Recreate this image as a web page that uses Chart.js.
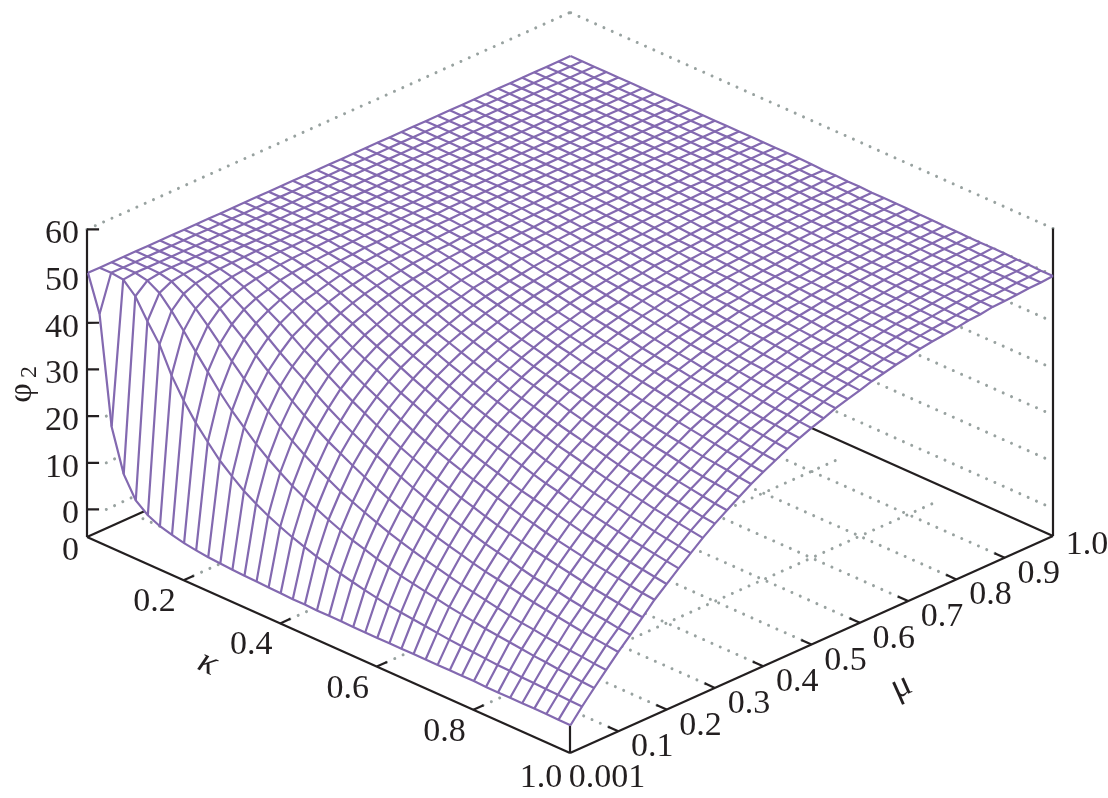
<!DOCTYPE html>
<html>
<head>
<meta charset="utf-8">
<title>phi2 surface</title>
<script src="https://cdn.jsdelivr.net/npm/chart.js@4/dist/chart.umd.min.js"></script>
<style>
html, body { margin: 0; padding: 0; background: #fff; }
canvas { display: block; }
</style>
</head>
<body>
<canvas id="surfaceChart" width="1108" height="798"></canvas>
<script>
'use strict';
const kappaValues = [0.001,0.025,0.05,0.075,0.1,0.125,0.15,0.175,0.2,0.225,0.25,0.275,0.3,0.325,0.35,0.375,0.4,0.425,0.45,0.475,0.5,0.525,0.55,0.575,0.6,0.625,0.65,0.675,0.7,0.725,0.75,0.775,0.8,0.825,0.85,0.875,0.9,0.925,0.95,0.975,1];
const muValues = [0.001,0.025,0.05,0.075,0.1,0.125,0.15,0.175,0.2,0.225,0.25,0.275,0.3,0.325,0.35,0.375,0.4,0.425,0.45,0.475,0.5,0.525,0.55,0.575,0.6,0.625,0.65,0.675,0.7,0.725,0.75,0.775,0.8,0.825,0.85,0.875,0.9,0.925,0.95,0.975,1];
const kappaTicks = [0.2, 0.4, 0.6, 0.8];
const muTicks = [0.1, 0.2, 0.3, 0.4, 0.5, 0.6, 0.7, 0.8, 0.9];
const zTicks = [0, 10, 20, 30, 40, 50, 60];
const plateauPhi = 50.7;
// phi2 estimated by eye from the mesh: one row per kappa, one value per mu.
const phiRows = [
[50.7],
[43],
[20,50.4],
[11,48,50.2,50.6],
[6.5,43.8,48.7,50,50.4,50.6],
[4.5,40,46,48.5,49.6,50.1,50.4,50.5,50.6],
[3.3,34.5,42.9,46.5,48.2,49.2,49.8,50.1,50.3,50.5,50.6,50.6],
[2.6,30.3,39.6,44,46.5,47.9,48.8,49.4,49.8,50.1,50.3,50.4,50.5,50.6,50.6],
[2,26.7,36.4,41.3,44.3,46.3,47.5,48.3,49.1,49.5,49.8,50,50.2,50.3,50.4,50.5,50.6,50.6],
[1.6,23.7,33.2,38.7,42.2,44.5,46,47.2,48.1,48.7,49.2,49.5,49.8,50,50.2,50.3,50.4,50.5,50.5,50.6,50.6],
[1.3,20.9,30.4,36.1,39.9,42.5,44.5,45.9,47,47.7,48.4,49,49.3,49.6,49.8,50,50.1,50.3,50.4,50.5,50.5,50.6,50.6],
[1.1,18.7,28,33.7,37.7,40.5,42.8,44.3,45.8,46.7,47.5,48.1,48.6,49.1,49.4,49.6,49.8,50,50.1,50.2,50.3,50.4,50.5,50.5,50.6,50.6],
[0.9,16.7,25.6,31.4,35.7,38.7,41,42.9,44.3,45.5,46.5,47.3,47.9,48.4,48.8,49.2,49.4,49.7,49.8,50,50.1,50.2,50.3,50.4,50.5,50.5,50.6,50.6],
[0.8,15.1,23.6,29.3,33.6,37,39.5,41.5,43,44.4,45.4,46.4,47.1,47.7,48.2,48.6,49,49.3,49.5,49.7,49.9,50,50.1,50.2,50.3,50.4,50.5,50.5,50.6,50.6],
[0.7,13.7,21.8,27.4,31.7,35,37.8,39.9,41.6,43.1,44.2,45.3,46.2,47,47.5,48,48.5,48.8,49.1,49.4,49.6,49.8,49.9,50,50.2,50.3,50.4,50.4,50.5,50.5,50.6,50.6],
[0.6,12.5,20.1,25.6,30,33.3,36.2,38.4,40.3,41.9,43.1,44.3,45.2,46.1,46.8,47.3,47.9,48.3,48.7,49,49.3,49.5,49.7,49.8,50,50.1,50.2,50.3,50.4,50.4,50.5,50.5,50.6,50.6],
[0.5,11.4,18.7,24,28.4,31.7,34.7,37,39.1,40.8,42.1,43.3,44.3,45.3,46.1,46.7,47.4,47.8,48.2,48.6,49,49.2,49.4,49.6,49.8,49.9,50,50.1,50.2,50.3,50.4,50.4,50.5,50.5,50.6,50.6],
[0.4,10.5,17.5,22.6,27,30.3,33.3,35.7,37.8,39.6,41,42.3,43.4,44.4,45.3,46,46.7,47.2,47.7,48.1,48.5,48.8,49.1,49.3,49.5,49.7,49.9,50,50.1,50.2,50.3,50.3,50.4,50.5,50.5,50.6,50.6],
[0.4,9.6,16.3,21.2,25.6,28.9,31.9,34.4,36.5,38.4,40,41.4,42.6,43.6,44.5,45.4,46.1,46.7,47.3,47.7,48.1,48.5,48.8,49.1,49.3,49.5,49.7,49.8,50,50.1,50.2,50.3,50.3,50.4,50.5,50.5,50.6,50.6,50.6],
[0.3,8.9,15.2,20.1,24.3,27.7,30.6,33.1,35.4,37.3,39,40.4,41.7,42.8,43.8,44.7,45.5,46.2,46.8,47.3,47.8,48.2,48.5,48.8,49,49.3,49.5,49.6,49.8,50,50.1,50.2,50.3,50.3,50.4,50.5,50.5,50.6,50.6,50.6],
[0.3,8.2,14.2,19,23,26.5,29.4,31.9,34.3,36.2,38,39.5,40.8,42,43.1,44,44.9,45.7,46.3,46.9,47.4,47.8,48.2,48.5,48.8,49.1,49.3,49.5,49.6,49.8,50,50.1,50.2,50.3,50.3,50.4,50.5,50.5,50.6,50.6,50.6],
[0.3,7.6,13.4,18,21.9,25.4,28.3,30.8,33.2,35.2,37,38.6,40,41.2,42.4,43.3,44.3,45.1,45.7,46.4,46.9,47.4,47.8,48.2,48.5,48.8,49.1,49.3,49.4,49.6,49.8,49.9,50,50.2,50.2,50.3,50.4,50.4,50.5,50.5,50.5],
[0.2,7,12.6,17,20.9,24.3,27.2,29.8,32.1,34.2,36.1,37.7,39.2,40.5,41.7,42.7,43.7,44.5,45.2,45.9,46.5,47,47.5,47.9,48.2,48.6,48.8,49.1,49.3,49.5,49.7,49.8,49.9,50.1,50.1,50.2,50.3,50.4,50.4,50.5,50.5],
[0.2,6.5,11.9,16.2,20,23.3,26.2,28.9,31.1,33.3,35.2,36.9,38.4,39.8,41,42.1,43.1,44,44.7,45.4,46.1,46.6,47.2,47.6,47.9,48.3,48.6,48.9,49.1,49.3,49.5,49.7,49.8,50,50,50.1,50.2,50.3,50.3,50.4,50.4],
[0.2,6,11.2,15.4,19.1,22.4,25.3,28,30.2,32.5,34.4,36.1,37.7,39.2,40.4,41.5,42.6,43.5,44.2,45,45.7,46.3,46.9,47.4,47.7,48.1,48.4,48.7,49,49.2,49.4,49.6,49.7,49.9,50,50.1,50.2,50.3,50.3,50.4,50.4],
[0.2,5.7,10.7,14.7,18.3,21.6,24.4,27.2,29.4,31.7,33.6,35.4,37,38.5,39.8,40.9,42,43,43.8,44.6,45.3,46,46.5,47.1,47.5,47.9,48.2,48.5,48.8,49,49.2,49.4,49.6,49.8,49.9,50,50.1,50.2,50.2,50.3,50.3],
[0.2,5.4,10.2,14.1,17.6,20.8,23.6,26.4,28.6,31,32.9,34.7,36.3,37.9,39.2,40.4,41.5,42.5,43.4,44.2,44.9,45.6,46.2,46.8,47.2,47.6,48,48.4,48.6,48.9,49.1,49.3,49.5,49.7,49.8,50,50,50.1,50.2,50.3,50.3],
[0.2,5.1,9.7,13.4,16.9,20,22.8,25.6,27.8,30.2,32.1,34,35.6,37.2,38.6,39.8,40.9,42,42.9,43.7,44.5,45.2,45.8,46.4,46.9,47.4,47.7,48.2,48.4,48.7,48.9,49.2,49.4,49.6,49.7,49.9,49.9,50,50.1,50.2,50.3],
[0.2,4.8,9.2,12.8,16.2,19.2,22,24.8,27.1,29.4,31.3,33.3,35,36.6,38,39.3,40.4,41.5,42.5,43.3,44.1,44.9,45.5,46.1,46.6,47.2,47.5,48,48.3,48.6,48.8,49.1,49.3,49.5,49.6,49.8,49.9,50,50.1,50.2,50.3],
[0.2,4.5,8.8,12.3,15.6,18.6,21.4,24.1,26.5,28.7,30.7,32.7,34.4,36,37.4,38.8,39.9,41.1,42.1,42.9,43.7,44.5,45.2,45.8,46.3,46.9,47.3,47.8,48.1,48.4,48.6,48.9,49.2,49.4,49.5,49.7,49.8,49.9,50,50.1,50.2],
[0.2,4.3,8.4,11.8,15.1,18,20.8,23.5,25.9,28.1,30.1,32.1,33.9,35.5,36.9,38.3,39.5,40.7,41.7,42.6,43.4,44.2,44.9,45.5,46.1,46.7,47.1,47.6,47.9,48.3,48.5,48.8,49.1,49.3,49.4,49.6,49.7,49.9,50,50.1,50.2],
[0.2,4.1,8,11.3,14.6,17.3,20.2,22.8,25.3,27.4,29.5,31.5,33.3,34.9,36.4,37.7,39.1,40.3,41.3,42.2,43,43.9,44.6,45.2,45.9,46.4,46.9,47.4,47.7,48.1,48.4,48.7,49,49.2,49.3,49.5,49.6,49.8,49.9,50,50.1],
[0.2,3.9,7.7,10.8,14.1,16.7,19.7,22.2,24.7,26.8,28.9,30.9,32.7,34.4,35.9,37.2,38.7,39.9,41,41.9,42.7,43.6,44.3,45,45.7,46.2,46.7,47.2,47.6,48,48.3,48.6,48.9,49.1,49.3,49.5,49.6,49.8,49.9,50,50.1],
[0.1,3.7,7.4,10.4,13.6,16.3,19.2,21.7,24.1,26.3,28.4,30.4,32.2,33.9,35.4,36.8,38.3,39.5,40.6,41.5,42.4,43.3,44,44.7,45.4,46,46.5,47,47.4,47.8,48.1,48.4,48.7,49,49.2,49.4,49.5,49.7,49.8,49.9,50],
[0.1,3.6,7.1,10.1,13.2,15.9,18.7,21.2,23.6,25.8,27.9,30,31.8,33.4,35,36.4,37.9,39.1,40.2,41.2,42.1,43,43.8,44.5,45.2,45.8,46.3,46.8,47.3,47.7,48,48.3,48.6,48.9,49.1,49.3,49.5,49.7,49.8,49.9,50],
[0.1,3.4,6.8,9.7,12.8,15.4,18.2,20.7,23.1,25.3,27.4,29.5,31.3,32.9,34.5,36,37.5,38.7,39.8,40.8,41.8,42.7,43.5,44.2,44.9,45.6,46.1,46.6,47.1,47.5,47.9,48.2,48.5,48.8,49,49.2,49.4,49.6,49.7,49.8,50],
[0.1,3.3,6.6,9.4,12.4,15,17.7,20.3,22.6,24.8,27,29,30.8,32.5,34,35.6,37.1,38.3,39.5,40.5,41.5,42.5,43.3,44,44.7,45.4,46,46.5,47,47.4,47.8,48.1,48.4,48.7,49,49.2,49.4,49.5,49.7,49.8,50],
[0.1,3.2,6.3,9.1,12,14.6,17.3,19.9,22.2,24.4,26.5,28.6,30.4,32.1,33.6,35.3,36.7,37.9,39.2,40.2,41.2,42.2,43,43.8,44.5,45.2,45.8,46.3,46.8,47.3,47.7,48,48.3,48.6,48.9,49.1,49.3,49.4,49.6,49.7,49.9],
[0.1,3.1,6.1,8.9,11.7,14.3,16.9,19.5,21.8,24,26.1,28.2,30,31.7,33.3,35,36.4,37.6,38.9,40,41,42,42.8,43.6,44.3,45,45.6,46.2,46.7,47.2,47.6,47.9,48.2,48.5,48.8,49.1,49.2,49.4,49.6,49.7,49.9],
[0,3,5.9,8.6,11.4,13.9,16.5,19.1,21.4,23.6,25.7,27.8,29.6,31.3,33,34.6,36,37.3,38.6,39.7,40.7,41.7,42.6,43.4,44.1,44.8,45.4,46,46.5,47.1,47.5,47.8,48.1,48.4,48.7,49,49.1,49.3,49.5,49.6,49.8],
[0,2.9,5.7,8.4,11.1,13.6,16.2,18.8,21,23.2,25.3,27.4,29.3,31,32.7,34.3,35.7,37,38.3,39.5,40.5,41.4,42.4,43.2,43.9,44.7,45.3,45.9,46.4,47,47.4,47.7,48,48.4,48.6,49,49.1,49.3,49.5,49.6,49.8]
];

const zFloor = -5.9;
const MESH_COLOR = '#8369b0';
const AXIS_COLOR = '#231f20';
const DOT_COLOR = '#98a2a0';
const FONT_FAMILY = '"Liberation Serif", "Times New Roman", serif';

// oblique view of the box, gives chart coordinates for (kappa, mu, z)
function project(k, mu, z) {
    return {
        x: 87 + 483 * k + 483 * mu,
        y: 537 + 216 * k - 217 * mu - (z - zFloor) * 4.667
    };
}

function phiAt(i, j) {
    const v = phiRows[i][j];
    return v === undefined ? plateauPhi : v;
}

function lineSet(data, color, width, order, extra) {
    return Object.assign({
        data: data,
        showLine: true,
        borderColor: color,
        borderWidth: width,
        pointRadius: 0,
        pointHoverRadius: 0,
        tension: 0,
        fill: false,
        order: order
    }, extra || {});
}

function dotted(a, b) {
    return lineSet([a, b], DOT_COLOR, 3, 6, { borderDash: [0.01, 9.1], borderCapStyle: 'round' });
}

function solid(a, b) {
    return lineSet([a, b], AXIS_COLOR, 2.2, 5);
}

const datasets = [];

// dotted walls and floor
datasets.push(dotted(project(0, 0, 60), project(0, 1, 60)));
datasets.push(dotted(project(1, 1, 60), project(0, 1, 60)));
zTicks.slice(0, 6).forEach(function (z) {
    datasets.push(dotted(project(0.02, 0.02, z), project(0, 1, z)));
    datasets.push(dotted(project(0.983, 1, z), project(0, 1, z)));
});
kappaTicks.forEach(function (k) {
    datasets.push(dotted(project(k, 0.02, zFloor), project(k, 0.965, zFloor)));
});
muTicks.forEach(function (mu) {
    datasets.push(dotted(project(0.98, mu, zFloor), project(0, mu, zFloor)));
});

// box edges and ticks
datasets.push(solid(project(0, 0, zFloor), project(0, 0, 60)));
datasets.push(solid(project(0, 0, zFloor), project(1, 0, zFloor)));
datasets.push(solid(project(1, 0, zFloor), project(1, 1, zFloor)));
datasets.push(solid(project(1, 1, zFloor), project(1, 1, 60)));
datasets.push(solid(project(1, 0, zFloor), project(1, 0, 0)));
datasets.push(solid(project(0, 0, zFloor), project(0, 1, zFloor)));
datasets.push(solid(project(1, 1, zFloor), project(0, 1, zFloor)));
zTicks.forEach(function (z) {
    datasets.push(solid(project(0, 0, z), project(0.0125, 0.0125, z)));
});
kappaTicks.forEach(function (k) {
    datasets.push(solid(project(k, 0, zFloor), project(k, 0.021, zFloor)));
});
muTicks.forEach(function (mu) {
    datasets.push(solid(project(1, mu, zFloor), project(0.979, mu, zFloor)));
});

// white sheet under the mesh hides what lies behind the surface
const last = 40;
const outline = [];
kappaValues.forEach(function (k, i) { outline.push(project(k, muValues[0], phiAt(i, 0))); });
muValues.forEach(function (mu, j) { outline.push(project(kappaValues[last], mu, phiAt(last, j))); });
kappaValues.slice().reverse().forEach(function (k, n) { outline.push(project(k, muValues[last], phiAt(last - n, last))); });
muValues.slice().reverse().forEach(function (mu, n) { outline.push(project(kappaValues[0], mu, phiAt(0, last - n))); });
datasets.push(lineSet(outline, '#ffffff', 0, 3, { fill: 'shape', backgroundColor: '#ffffff' }));

// mesh
kappaValues.forEach(function (k, i) {
    datasets.push(lineSet(muValues.map(function (mu, j) { return project(k, mu, phiAt(i, j)); }), MESH_COLOR, 2.2, 1));
});
muValues.forEach(function (mu, j) {
    datasets.push(lineSet(kappaValues.map(function (k, i) { return project(k, mu, phiAt(i, j)); }), MESH_COLOR, 2.2, 1));
});

const axisText = {
    id: 'axisText',
    afterDraw: function (chart) {
        const ctx = chart.ctx;
        const sx = chart.scales.x;
        const sy = chart.scales.y;
        function put(str, p, dx, dy, align) {
            ctx.textAlign = align || 'center';
            ctx.fillText(str, sx.getPixelForValue(p.x) + dx, sy.getPixelForValue(p.y) + dy);
        }
        function turned(str, x, y, angle, font) {
            ctx.save();
            ctx.translate(x, y);
            ctx.rotate(angle);
            ctx.font = font;
            ctx.textAlign = 'center';
            ctx.fillText(str, 0, 0);
            ctx.restore();
        }
        ctx.save();
        ctx.fillStyle = AXIS_COLOR;
        ctx.textBaseline = 'alphabetic';
        ctx.font = '34px ' + FONT_FAMILY;
        zTicks.forEach(function (z) {
            put(String(z), project(0, 0, z), -8, 14, 'right');
        });
        put('0', project(0, 0, zFloor), -8, 23, 'right');
        kappaTicks.forEach(function (k) {
            put(k.toFixed(1), project(k, 0, zFloor), -29, 31);
        });
        put('1.0', project(1, 0, zFloor), -29, 34);
        put('0.001', project(1, 0, zFloor), 37, 34);
        muTicks.forEach(function (mu) {
            put(mu.toFixed(1), project(1, mu, zFloor), 34, 25);
        });
        put('1.0', project(1, 1, zFloor), 34, 18);
        turned('φ', 31, 393, -Math.PI / 2, '34px ' + FONT_FAMILY);
        turned('2', 36, 372, -Math.PI / 2, '24px ' + FONT_FAMILY);
        turned('κ', 204, 672, 0.42, 'italic 36px ' + FONT_FAMILY);
        turned('μ', 905, 695, -0.42, '36px ' + FONT_FAMILY);
        ctx.restore();
    }
};

new Chart('surfaceChart', {
    type: 'scatter',
    data: { datasets: datasets },
    options: {
        responsive: false,
        animation: false,
        events: [],
        layout: { padding: 0 },
        scales: {
            x: { type: 'linear', min: 0, max: 1108, display: false },
            y: { type: 'linear', min: 0, max: 798, reverse: true, display: false }
        },
        plugins: {
            legend: { display: false },
            tooltip: { enabled: false },
            title: { display: false },
            filler: { drawTime: 'beforeDatasetDraw', propagate: false }
        }
    },
    plugins: [axisText]
});
</script>
</body>
</html>
